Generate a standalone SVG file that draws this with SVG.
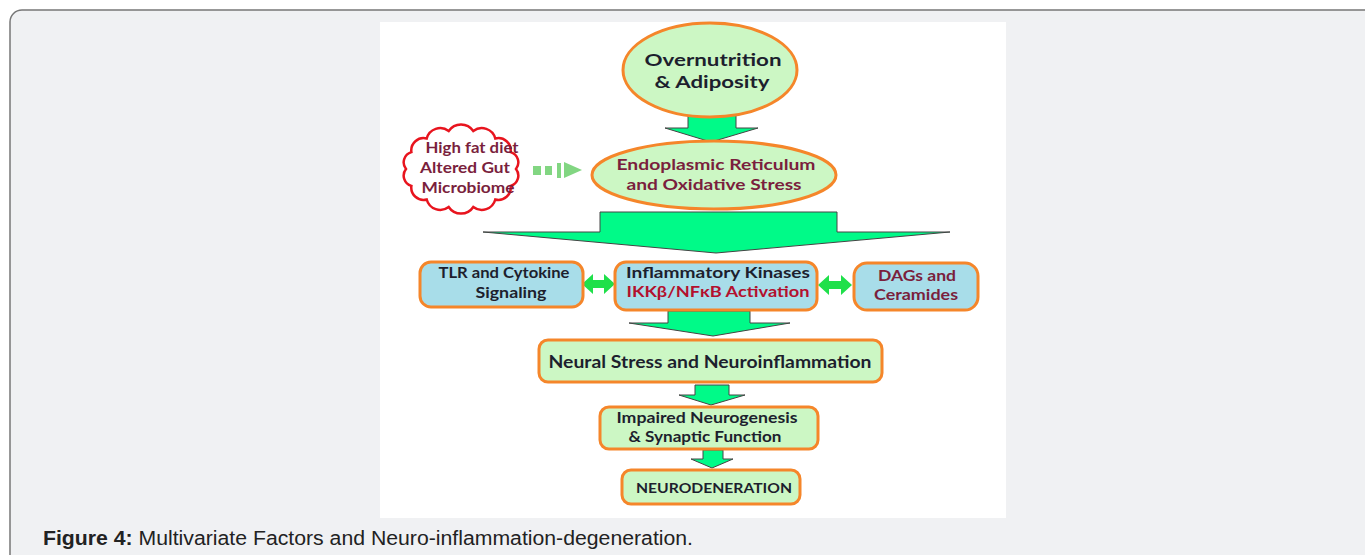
<svg xmlns="http://www.w3.org/2000/svg" width="1365" height="555" viewBox="0 0 1365 555">
<style>
.node-g{fill:#ccf7c4;stroke:#f5862a;stroke-width:3}
.node-b{fill:#a8dde9;stroke:#f5862a;stroke-width:3}
.t{font-family:Lato,"Open Sans",sans-serif;font-weight:bold;text-anchor:middle}
.dark{fill:#1d1f2e}
.maroon{fill:#7a1f3d}
.red{fill:#b3102e}
.big{fill:#00fa88;stroke:#444;stroke-width:1}
.dbl{fill:#1fe04a}
.cap{font-family:"Liberation Sans",Arial,sans-serif;font-size:20px;fill:#222}
</style>
<rect x="10" y="10" width="1380" height="580" rx="12" fill="#f0f1f3" stroke="#777" stroke-width="1.5"/>
<rect x="380" y="22" width="626" height="496" fill="#ffffff"/>

<g id="connectors">
  <polygon class="big" points="688,115 736,115 736,128 758,128 711,142 665,128 688,128"/>
  <polygon class="big" points="600,212 837,212 837,232 950,232 716,253 483,232 600,232"/>
  <polygon class="big" points="668,311 750,311 750,323 790,323 713,336 629,323 668,323"/>
  <polygon class="big" points="695,385 729,385 729,395 745,395 711,405 679,395 695,395"/>
  <polygon class="big" points="703,450 723,450 723,459 733,459 712,468 691,459 703,459"/>
  <polygon class="dbl" points="582,284 593,274 593,280 604,280 604,274 615,284 604,294 604,288 593,288 593,294"/>
  <polygon class="dbl" points="818,285 829,275 829,281 841,281 841,275 852,285 841,295 841,289 829,289 829,295"/>
  <g fill="#82d682">
    <rect x="533" y="166" width="8" height="9"/>
    <rect x="545" y="166" width="7" height="9"/>
    <rect x="557" y="163" width="4" height="15"/>
    <polygon points="564,162 582,170 564,178"/>
  </g>
</g>

<g id="overnutrition">
  <ellipse class="node-g" cx="710" cy="70" rx="87" ry="47"/>
  <text class="t dark" x="713" y="66" font-size="17" textLength="137" lengthAdjust="spacingAndGlyphs">Overnutrition</text>
  <text class="t dark" x="712" y="88" font-size="17" textLength="115" lengthAdjust="spacingAndGlyphs">&amp; Adiposity</text>
</g>

<g id="cloud">
  <path d="M 406,169 A 10.7 10.7 0 0 1 411.4,152.1 A 12.3 12.3 0 0 1 426.7,138.5 A 14 14 0 0 1 448.7,131 A 14.8 14.8 0 0 1 473.3,131 A 14 14 0 0 1 495.3,138.5 A 12.3 12.3 0 0 1 510.6,152.1 A 10.7 10.7 0 0 1 516,169 A 10.7 10.7 0 0 1 510.6,185.9 A 12.3 12.3 0 0 1 495.3,199.5 A 14 14 0 0 1 473.3,207 A 14.8 14.8 0 0 1 448.7,207 A 14 14 0 0 1 426.7,199.5 A 12.3 12.3 0 0 1 411.4,185.9 A 10.7 10.7 0 0 1 406,169 Z" fill="#ffffff" stroke="#e8141e" stroke-width="2.5"/>
  <text class="t maroon" x="472" y="153" font-size="15" textLength="93" lengthAdjust="spacingAndGlyphs">High fat diet</text>
  <text class="t maroon" x="465" y="173" font-size="15" textLength="90" lengthAdjust="spacingAndGlyphs">Altered Gut</text>
  <text class="t maroon" x="468" y="193" font-size="15" textLength="93" lengthAdjust="spacingAndGlyphs">Microbiome</text>
</g>

<g id="er-stress">
  <ellipse class="node-g" cx="714" cy="175" rx="122" ry="34"/>
  <text class="t maroon" x="716" y="170" font-size="15.5" textLength="199" lengthAdjust="spacingAndGlyphs">Endoplasmic Reticulum</text>
  <text class="t maroon" x="714" y="190" font-size="15.5" textLength="175" lengthAdjust="spacingAndGlyphs">and Oxidative Stress</text>
</g>

<g id="tlr">
  <rect class="node-b" x="420" y="262" width="163" height="45" rx="11"/>
  <text class="t dark" x="504" y="278" font-size="15" textLength="131" lengthAdjust="spacingAndGlyphs">TLR and Cytokine</text>
  <text class="t dark" x="511" y="298" font-size="15" textLength="71" lengthAdjust="spacingAndGlyphs">Signaling</text>
</g>

<g id="kinases">
  <rect class="node-b" x="615" y="262" width="202" height="48" rx="11"/>
  <text class="t dark" x="718" y="278" font-size="15.5" textLength="184" lengthAdjust="spacingAndGlyphs">Inflammatory Kinases</text>
  <text class="t red" x="718" y="297" font-size="15.5" textLength="183" lengthAdjust="spacingAndGlyphs">IKKβ/NFκB Activation</text>
</g>

<g id="dags">
  <rect class="node-b" x="854" y="263" width="124" height="47" rx="13"/>
  <text class="t maroon" x="917" y="281" font-size="15" textLength="78" lengthAdjust="spacingAndGlyphs">DAGs and</text>
  <text class="t maroon" x="916" y="300" font-size="15" textLength="84" lengthAdjust="spacingAndGlyphs">Ceramides</text>
</g>

<g id="neural-stress">
  <rect class="node-g" x="539" y="340" width="343" height="42" rx="9"/>
  <text class="t dark" x="710" y="368" font-size="16.5" textLength="323" lengthAdjust="spacingAndGlyphs">Neural Stress and Neuroinflammation</text>
</g>

<g id="impaired">
  <rect class="node-g" x="600" y="407" width="218" height="42" rx="9"/>
  <text class="t dark" x="707" y="423" font-size="14.5" textLength="181" lengthAdjust="spacingAndGlyphs">Impaired Neurogenesis</text>
  <text class="t dark" x="705" y="442" font-size="14.5" textLength="153" lengthAdjust="spacingAndGlyphs">&amp; Synaptic Function</text>
</g>

<g id="neurodegeneration">
  <rect class="node-g" x="622" y="470" width="178" height="34" rx="9"/>
  <text class="t dark" x="714" y="493" font-size="14" textLength="156" lengthAdjust="spacingAndGlyphs">NEURODENERATION</text>
</g>

<text class="cap" x="43" y="545" textLength="650" lengthAdjust="spacingAndGlyphs"><tspan font-weight="bold">Figure 4:</tspan> Multivariate Factors and Neuro-inflammation-degeneration.</text>
</svg>
